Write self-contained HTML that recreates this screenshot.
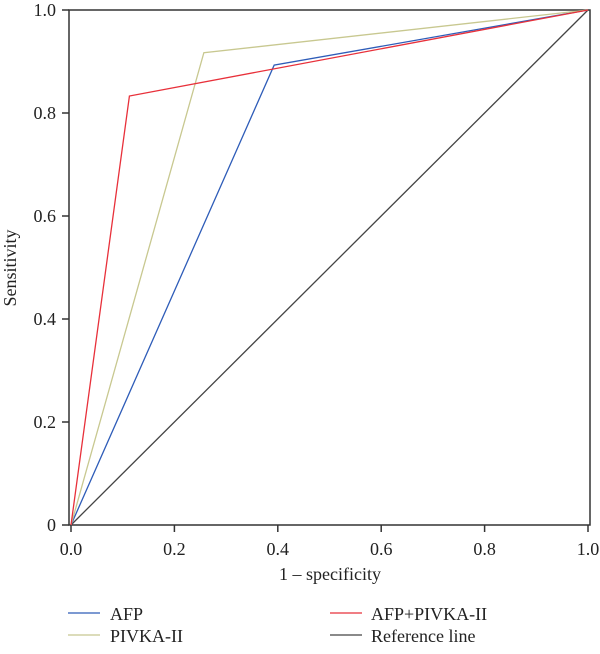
<!DOCTYPE html>
<html><head><meta charset="utf-8"><style>
body{margin:0;background:#fff}
svg text{font-family:"Liberation Serif",serif;fill:#222}
</style></head><body>
<svg width="600" height="649" id="chart">
<rect x="69" y="10" width="521" height="515" fill="none" stroke="#333" stroke-width="1.5"/>
<g id="axes"></g><g id="series"></g>
<text x="330" y="580" font-size="18" text-anchor="middle">1 – specificity</text>
<text transform="translate(16,268) rotate(-90)" font-size="18" text-anchor="middle">Sensitivity</text>
<g font-size="18">
<g><line x1="68" y1="613" x2="100" y2="613" stroke="#2e5cb8" stroke-width="1.3"/><text x="110" y="620">AFP</text></g>
<g><line x1="68" y1="635" x2="100" y2="635" stroke="#c8c890" stroke-width="1.3"/><text x="110" y="642">PIVKA-II</text></g>
<g><line x1="330" y1="613" x2="362" y2="613" stroke="#e8303a" stroke-width="1.3"/><text x="371" y="620">AFP+PIVKA-II</text></g>
<g><line x1="330" y1="635" x2="362" y2="635" stroke="#444" stroke-width="1.3"/><text x="371" y="642">Reference line</text></g>
</g>
</svg>
<script>
const xTicks=[0,0.2,0.4,0.6,0.8,1.0];
const xTickLabels=["0.0","0.2","0.4","0.6","0.8","1.0"];
const yTicks=[0,0.2,0.4,0.6,0.8,1.0];
const yTickLabels=["0","0.2","0.4","0.6","0.8","1.0"];
const afpX=[0,0.393,1], afpY=[0,0.893,1];
const pivkaX=[0,0.257,1], pivkaY=[0,0.917,1];
const combX=[0,0.113,1], combY=[0,0.833,1];
const refX=[0,1], refY=[0,1];
const sx=v=>71+v*517, sy=v=>525-v*515;
const NS="http://www.w3.org/2000/svg";
const ax=document.getElementById('axes'), se=document.getElementById('series');
function mk(t,a,p){const e=document.createElementNS(NS,t);for(const k in a)e.setAttribute(k,a[k]);p.appendChild(e);return e;}
xTicks.forEach((v,i)=>{
 const l=mk('line',{x1:sx(v),x2:sx(v),y1:525,y2:532,stroke:'#333','stroke-width':1.5},ax);
 
 
 const t=mk('text',{x:sx(v),y:555,'font-size':18,'text-anchor':'middle'},ax);t.textContent=xTickLabels[i];
 
 
});
yTicks.forEach((v,i)=>{
 const l=mk('line',{x1:62,x2:69,y1:sy(v),y2:sy(v),stroke:'#333','stroke-width':1.5},ax);
 
 
 const t=mk('text',{x:56,y:sy(v)+6,'font-size':18,'text-anchor':'end'},ax);t.textContent=yTickLabels[i];
 
 
});
function line(xs,ys,c,n){
 const p=mk('polyline',{points:xs.map((x,i)=>sx(x)+','+sy(ys[i])).join(' '),fill:'none',stroke:c,'stroke-width':1.3},se);
 
 
}
line(refX,refY,'#444','reference-line');
line(afpX,afpY,'#2e5cb8','afp-curve');
line(pivkaX,pivkaY,'#c8c890','pivka-curve');
line(combX,combY,'#e8303a','combined-curve');
</script>
</body></html>
